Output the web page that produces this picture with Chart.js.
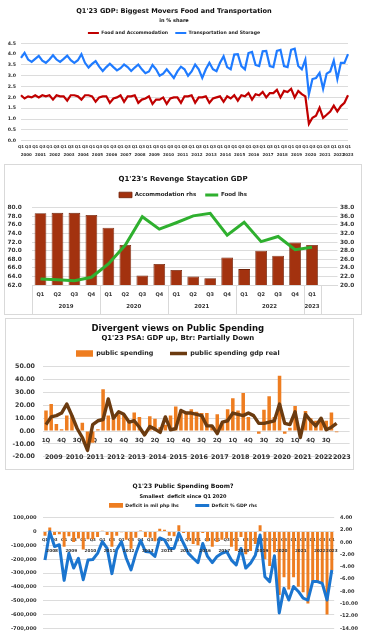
<!DOCTYPE html>
<html>
<head>
<meta charset="utf-8">
<script src="https://cdn.jsdelivr.net/npm/chart.js@4.4.1/dist/chart.umd.min.js"></script>
<style>
  html, body { margin: 0; padding: 0; background: #fff; }
  body { width: 366px; height: 639px; position: relative; overflow: hidden; }
  canvas { position: absolute; }
  .box { position: absolute; border: 1px solid #d9d9d9; box-sizing: border-box; }
</style>
</head>
<body>
<div class="box" style="left:4px;top:164px;width:358px;height:151px"></div>
<div class="box" style="left:5px;top:318px;width:349px;height:152px"></div>
<canvas id="c1" width="366" height="162" style="left:0;top:0"></canvas>
<canvas id="c2" width="356" height="149" style="left:5px;top:165px"></canvas>
<canvas id="c3" width="347" height="150" style="left:6px;top:319px"></canvas>
<canvas id="c4" width="366" height="161" style="left:0;top:478px"></canvas>
<script>
/* ---- chart 1: share of GDP, 2000 Q1 .. 2023 Q1 ---- */
const foodAccom = [
  2.1, 1.95, 2.05, 2.0,   2.1, 2.0, 2.1, 2.05,   2.1, 1.9, 2.1, 2.05,   2.05, 1.85, 2.1, 2.1,
  2.05, 1.9, 2.1, 2.1,   2.05, 1.8, 2.0, 2.05,   2.05, 1.75, 1.95, 2.0,   2.1, 1.8, 2.05, 2.05,
  2.1, 1.75, 1.9, 1.95,   2.05, 1.7, 1.9, 1.9,   2.0, 1.7, 1.95, 2.0,   2.0, 1.75, 2.05, 2.05,
  2.1, 1.75, 2.0, 2.0,   2.05, 1.75, 1.95, 2.0,   2.05, 1.8, 2.05, 1.95,   2.1, 1.85, 2.1, 2.05,
  2.2, 1.9, 2.15, 2.1,   2.25, 2.0, 2.2, 2.2,   2.35, 2.0, 2.3, 2.25,   2.4, 2.0, 2.3, 2.15,
  2.05, 0.78, 1.06, 1.15,   1.52, 1.06, 1.2, 1.35,   1.62, 1.35, 1.6, 1.75,   2.1
];
const transport = [
  3.83, 4.06, 3.75, 3.64,   3.78, 3.92, 3.7, 3.6,   3.75, 3.95, 3.75, 3.64,   3.78, 3.93, 3.72, 3.6,
  3.72, 4.0, 3.6, 3.38,   3.55, 3.68, 3.42, 3.22,   3.4, 3.56, 3.4, 3.25,   3.35, 3.52, 3.4, 3.22,
  3.38, 3.52, 3.3, 3.12,   3.2, 3.5, 3.3, 3.0,   3.1, 3.3, 3.1, 2.9,   3.2, 3.42, 3.3, 3.0,
  3.2, 3.52, 3.3, 2.9,   3.3, 3.6, 3.3, 3.21,   3.6, 3.9, 3.4, 3.3,   3.98, 4.0, 3.45, 3.3,
  4.05, 4.1, 3.5, 3.45,   4.13, 4.15, 3.45, 3.4,   4.15, 4.2, 3.45, 3.4,   4.2, 4.25, 3.45, 3.3,
  3.75, 2.14, 2.85, 2.9,   3.13, 2.4, 3.1, 3.2,   3.7, 2.85, 3.6, 3.6,   4.0
];

/* ---- chart 2: 2019 Q1 .. 2023 Q1 ---- */
const accommRhs = [78.7, 78.8, 78.8, 78.3, 75.35, 71.3, 64.2, 66.9, 65.5, 64.0, 63.6, 68.4, 65.7, 70.0, 68.8, 71.9, 71.3];
const foodLhs = [21.4, 21.2, 21.0, 21.8, 24.9, 29.3, 35.9, 33.0, 34.5, 36.1, 36.7, 31.6, 34.6, 30.1, 31.3, 28.2, 28.8];

/* ---- chart 3: 2009 Q1 .. 2023 Q1 ---- */
const publicSpending = [
  16, 21, 5.5, 1.5,   12, 12, 0.5, 6.5,   -10, -9, 1.5, 32.5,   12, 12, 13, 13,
  7, 14.5, 11, -3,   11.5, 9.5, 3, 5,   12, 19, 16, 15,   17, 15, 14, 14,
  4, 13, 6, 17,   25.5, 16, 29.5, 11,   0.5, -2, 16.5, 27,   11, 43, -2, 2.5,
  19.5, 0, 15.5, 10,   8, 10, 8, 14.5,   -1
];
const publicSpendingReal = [
  5, 11, 12, 14,   21, 12, 2, -5,   -15, 5, 8, 9,   25, 10, 15, 13,
  7, 8, 3, -3,   3.5, 1.5, -1, 11,   1, 2, 16, 14,   14, 13, 12, 4,
  4, -2, 7, 8,   14, 13, 12, 14,   12, 6, 6, 7,   8, 21, 6, 5,
  15, -5, 13, 8,   4, 10, 1, 3,   6
];

/* ---- chart 4: 2008 Q1 .. 2023 Q1 ---- */
const deficitMil = [
  -30000, 30000, -25000, -20000,   -110000, -35000, -75000, -50000,   -130000, -55000, -55000, -40000,
  5000, -25000, -110000, -30000,   -5000, -60000, -125000, -45000,   8000, -40000, -45000, -70000,
  20000, 12000, -30000, -35000,   45000, -10000, -60000, -90000,   -100000, -10000, -70000, -110000,
  -75000, -60000, -50000, -110000,   -140000, -40000, -165000, -140000,   -90000, 45000, -200000, -250000,
  -150000, -460000, -330000, -420000,   -330000, -400000, -440000, -520000,   -360000, -370000, -370000, -600000,
  -280000
];
const deficitPct = [
  -2.9, 1.7, -0.7, -0.4,   -6.2, -1.8, -4.2, -2.6,   -6.1, -2.9, -2.8, -1.8,   0.1, -1.0, -5.1, -1.2,
  0.1, -2.6, -4.5, -1.8,   0.3, -1.5, -1.6, -2.3,   0.7, 0.4, -1.0, -1.0,   1.5, -0.2, -1.8, -2.6,
  -3.3, -0.2, -2.3, -3.3,   -2.3, -1.8, -1.5, -2.9,   -3.7, -1.0, -4.2, -3.4,   -2.1, 1.2, -5.6, -6.4,
  -2.2, -11.5, -7.5, -9.4,   -7.2, -8.0, -9.1, -9.4,   -6.4, -6.4, -6.7, -9.4,   -4.5
];

/* category labels: quarter name + year of each category */
function quarterLabels(firstYear, lastYear, lastQuarter, names, blanks) {
  const q = [], y = [];
  for (let yr = firstYear; yr <= lastYear; yr++) {
    const n = yr === lastYear ? lastQuarter : 4;
    for (let k = 0; k < n; k++) { q.push(names[k]); y.push(String(yr)); }
  }
  for (let b = 0; b < blanks.length; b++) { q.push(''); y.push(blanks[b]); }
  return { q, y };
}
const cats1 = quarterLabels(2000, 2023, 1, ['Q1', 'Q2', 'Q3', 'Q4'], []);
const cats2 = quarterLabels(2019, 2023, 1, ['Q1', 'Q2', 'Q3', 'Q4'], ['']);
const cats3 = quarterLabels(2009, 2023, 1, ['1Q', '2Q', '3Q', '4Q'], ['2023', '2023']);
const cats4 = quarterLabels(2008, 2023, 1, ['Q1', 'Q2', 'Q3', 'Q4'], []);

Chart.defaults.font.family = '"DejaVu Sans", sans-serif';
Chart.defaults.font.weight = 'bold';
Chart.defaults.color = '#333';

/* year row under the quarter labels (drawn from the x scale) */
function makeYearRow(years, y, size, dividers) {
  return {
    id: 'yearRow',
    afterDraw(chart) {
      const x = chart.scales.x;
      const ctx = chart.ctx;
      const groups = [];
      years.forEach((yr, i) => {
        const last = groups[groups.length - 1];
        if (last && last.label === yr) last.to = i;
        else groups.push({ label: yr, from: i, to: i });
      });
      ctx.save();
      ctx.font = 'bold ' + size + 'px "DejaVu Sans"';
      ctx.fillStyle = '#333';
      ctx.textAlign = 'center';
      ctx.textBaseline = 'middle';
      groups.forEach(g => {
        if (!g.label) return;
        const cx = (x.getPixelForValue(g.from) + x.getPixelForValue(g.to)) / 2;
        ctx.fillText(g.label, cx, y);
      });
      if (dividers) {
        ctx.strokeStyle = '#d9d9d9';
        ctx.lineWidth = 1;
        const bottom = chart.height;
        groups.forEach(g => {
          if (!g.label) return;
          [g.from - 0.5, g.to + 0.5].forEach(v => {
            const px = Math.round(x.getPixelForValue(v)) + 0.5;
            ctx.beginPath();
            ctx.moveTo(px, chart.chartArea.bottom);
            ctx.lineTo(px, bottom);
            ctx.stroke();
          });
        });
      }
      ctx.restore();
    }
  };
}

/* legend: rect for bars, line for lines, in dataset order */
function legendItems(chart) {
  const items = Chart.defaults.plugins.legend.labels.generateLabels(chart);
  items.forEach(it => {
    const ds = chart.data.datasets[it.datasetIndex];
    it.pointStyle = (ds.type || chart.config.type) === 'bar' ? 'rect' : 'line';
    if (ds.legendTail) it.text = it.text + ds.legendTail;
  });
  return items;
}
function legendCfg(size, pad, maxH, markW) {
  return {
    display: true,
    maxHeight: maxH,
    labels: {
      font: { size: size },
      color: '#222',
      padding: pad,
      usePointStyle: true,
      pointStyleWidth: markW,
      generateLabels: legendItems,
      sort: (a, b) => a.datasetIndex - b.datasetIndex
    }
  };
}

/* ---------- chart 1 ---------- */
new Chart(document.getElementById('c1'), {
  type: 'line',
  data: {
    labels: cats1.q,
    datasets: [
      { label: 'Food and Accommodation', data: foodAccom, borderColor: '#c00000', backgroundColor: '#c00000',
        borderWidth: 2.2, pointRadius: 0, tension: 0 },
      { label: 'Transportation and Storage', data: transport, borderColor: '#1f7bff', backgroundColor: '#1f7bff',
        borderWidth: 2.2, pointRadius: 0, tension: 0 }
    ]
  },
  options: {
    responsive: false, animation: false, devicePixelRatio: 1,
    layout: { padding: { left: 0, right: 18, top: 0, bottom: 0 } },
    plugins: {
      title: { display: true, text: "Q1'23 GDP: Biggest Movers Food and Transportation", color: '#111',
               font: { size: 6.6 }, padding: { top: 7.8, bottom: 0 } },
      subtitle: { display: true, text: 'in % share', color: '#111',
                  font: { size: 5, weight: 'bold' }, padding: { top: 1.8, bottom: 0 } },
      legend: legendCfg(4.6, 7.2, 19.8, 11),
      tooltip: { enabled: false }
    },
    scales: {
      x: {
        grid: { display: false, drawTicks: false }, border: { display: false },
        ticks: { autoSkip: false, maxRotation: 0, minRotation: 0, padding: 3.9, font: { size: 4 },
                 callback: (v, i) => (cats1.q[i] === 'Q1' || cats1.q[i] === 'Q3') ? cats1.q[i] : '' },
        afterFit: a => { a.height = 21.3; }
      },
      y: {
        min: 0, max: 4.5,
        ticks: { stepSize: 0.5, autoSkip: false, padding: 5, font: { size: 4.7 }, callback: v => v.toFixed(1) },
        grid: { color: '#dcdcdc', drawTicks: false }, border: { display: false },
        afterFit: a => { a.width = 21; a.paddingTop = 43.3; }
      }
    }
  },
  plugins: [makeYearRow(cats1.y, 155.3, 4, false)]
});

/* ---------- chart 2 ---------- */
new Chart(document.getElementById('c2'), {
  type: 'bar',
  data: {
    labels: cats2.q,
    datasets: [
      { type: 'bar', label: 'Accommodation rhs', data: accommRhs, yAxisID: 'y', order: 1,
        backgroundColor: '#a3320f', borderColor: '#6e2108', borderWidth: 0.8,
        barPercentage: 0.69, categoryPercentage: 1 },
      { type: 'line', label: 'Food lhs', data: foodLhs, yAxisID: 'y1', order: 0,
        borderColor: '#2fb02f', backgroundColor: '#2fb02f', borderWidth: 3, pointRadius: 0, tension: 0 }
    ]
  },
  options: {
    responsive: false, animation: false, devicePixelRatio: 1,
    layout: { padding: 0 },
    plugins: {
      title: { display: true, text: "Q1'23's Revenge Staycation GDP", color: '#111',
               font: { size: 7 }, padding: { top: 7.8, bottom: 0 } },
      legend: legendCfg(5.5, 9, 26, 13),
      tooltip: { enabled: false }
    },
    scales: {
      x: {
        grid: { display: false, drawTicks: false }, border: { display: true, color: '#d9d9d9' },
        ticks: { autoSkip: false, maxRotation: 0, minRotation: 0, padding: 7, font: { size: 5 } },
        afterFit: a => { a.height = 29; }
      },
      y: {
        position: 'left', min: 62, max: 80,
        ticks: { stepSize: 2, autoSkip: false, padding: 10.3, font: { size: 5.8 }, callback: v => v.toFixed(1) },
        grid: { color: '#dcdcdc', drawTicks: false }, border: { display: false },
        afterFit: a => { a.width = 27; a.paddingTop = 42.7; }
      },
      y1: {
        position: 'right', min: 20, max: 38,
        ticks: { stepSize: 2, autoSkip: false, padding: 2.5, font: { size: 5.8 }, callback: v => v.toFixed(1) },
        grid: { display: false, drawTicks: false }, border: { display: false },
        afterFit: a => { a.width = 23.5; a.paddingTop = 42.7; }
      }
    }
  },
  plugins: [makeYearRow(cats2.y, 141.7, 5.4, true)]
});

/* ---------- chart 3 ---------- */
new Chart(document.getElementById('c3'), {
  type: 'bar',
  data: {
    labels: cats3.q,
    datasets: [
      { type: 'bar', label: 'public spending', legendTail: '    ', data: publicSpending, order: 1,
        backgroundColor: '#ee7d20', borderWidth: 0, barPercentage: 0.68, categoryPercentage: 1 },
      { type: 'line', label: 'public spending gdp real', data: publicSpendingReal, order: 0,
        borderColor: '#6b3b10', backgroundColor: '#6b3b10', borderWidth: 3.4, pointRadius: 0,
        tension: 0, borderJoinStyle: 'round' }
    ]
  },
  options: {
    responsive: false, animation: false, devicePixelRatio: 1,
    layout: { padding: { left: 0, right: 3.4, top: 0, bottom: 5.7 } },
    plugins: {
      title: { display: true, text: 'Divergent views on Public Spending', color: '#111',
               font: { size: 8.5 }, padding: { top: 3.9, bottom: 0 } },
      subtitle: { display: true, text: "Q1'23 PSA: GDP up, Btr: Partially Down", color: '#111',
                  font: { size: 6.9, weight: 'bold' }, padding: { top: 0.76, bottom: 0 } },
      legend: legendCfg(6.4, 7.66, 30, 17),
      tooltip: { enabled: false }
    },
    scales: {
      x: {
        position: { y: 0 }, z: 1,
        grid: { display: false, drawTicks: false }, border: { display: false },
        ticks: { autoSkip: false, maxRotation: 0, minRotation: 0, padding: 5.9, font: { size: 5.6 },
                 callback: (v, i) => (i % 3 === 0 ? cats3.q[i] : '') }
      },
      y: {
        min: -20, max: 50,
        ticks: { stepSize: 10, autoSkip: false, padding: 8.4, font: { size: 6.3 }, callback: v => v.toFixed(2) },
        grid: { color: '#dcdcdc', drawTicks: false }, border: { display: false },
        afterFit: a => { a.width = 37.4; a.paddingTop = 47.7; }
      }
    }
  },
  plugins: [makeYearRow(cats3.y, 138.7, 6.4, false)]
});

/* ---------- chart 4 ---------- */
new Chart(document.getElementById('c4'), {
  type: 'bar',
  data: {
    labels: cats4.q,
    datasets: [
      { type: 'bar', label: 'Deficit in mil php lhs', legendTail: '        ', data: deficitMil, yAxisID: 'y', order: 1,
        backgroundColor: '#ee7d20', borderWidth: 0, barPercentage: 0.62, categoryPercentage: 1 },
      { type: 'line', label: 'Deficit % GDP rhs', data: deficitPct, yAxisID: 'y1', order: 0,
        borderColor: '#1b75cf', backgroundColor: '#1b75cf', borderWidth: 3, pointRadius: 0,
        tension: 0, borderJoinStyle: 'round' }
    ]
  },
  options: {
    responsive: false, animation: false, devicePixelRatio: 1,
    layout: { padding: { left: 0, right: 0, top: 0, bottom: 10.7 } },
    plugins: {
      title: { display: true, text: "Q1'23 Public Spending Boom?", color: '#111',
               font: { size: 6 }, padding: { top: 4.4, bottom: 0 } },
      subtitle: { display: true, text: 'Smallest  deficit since Q1 2020', color: '#111',
                  font: { size: 5, weight: 'bold' }, padding: { top: 3.4, bottom: 0 } },
      legend: legendCfg(4.6, 3.7, 18.3, 14),
      tooltip: { enabled: false }
    },
    scales: {
      x: {
        position: { y: 0 }, z: 1,
        grid: { display: false, drawTicks: false }, border: { display: false },
        ticks: { autoSkip: false, maxRotation: 0, minRotation: 0, padding: 5.6, font: { size: 4 },
                 callback: (v, i) => (cats4.q[i] === 'Q1' || cats4.q[i] === 'Q3') ? cats4.q[i] : '' }
      },
      y: {
        position: 'left', min: -700000, max: 100000,
        ticks: { stepSize: 100000, autoSkip: false, padding: 5.9, font: { size: 5.2 }, callback: v => v.toLocaleString('en-US') },
        grid: { color: '#dcdcdc', drawTicks: false }, border: { display: false },
        afterFit: a => { a.width = 42.6; a.paddingTop = 39.7; }
      },
      y1: {
        position: 'right', min: -14, max: 4,
        ticks: { stepSize: 2, autoSkip: false, padding: 5.8, font: { size: 5 }, callback: v => v.toFixed(2) },
        grid: { display: false, drawTicks: false }, border: { display: false },
        afterFit: a => { a.width = 31.8; a.paddingTop = 39.7; }
      }
    }
  },
  plugins: [makeYearRow(cats4.y, 72.5, 4.2, false)]
});
</script>
</body>
</html>
